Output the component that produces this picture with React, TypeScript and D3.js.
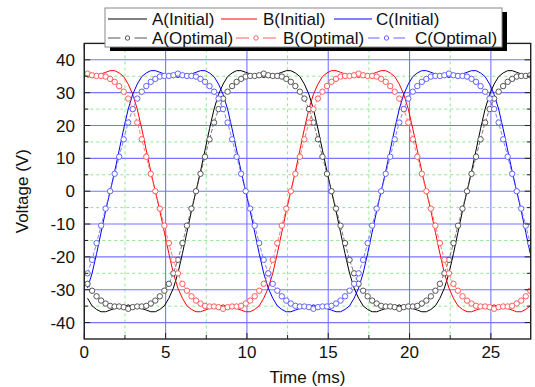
import { useMemo } from "react";
import * as d3 from "d3";

/* ------------------------------------------------------------------ */
/*  Data                                                              */
/* ------------------------------------------------------------------ */

// One period (60 samples over 16.67 ms), starting at
// the centre of the positive plateau.
const waveInitial = [
  34.6, 35.2, 35.4, 35.7, 36.2, 36.7, 36.7, 36.0, 34.9, 32.6, 29.5, 25.0, 19.0, 12.5, 6.0,
  0, -6.0, -12.5, -19.0, -25.0, -29.5, -32.6, -34.9, -36.0, -36.7, -36.7, -36.2, -35.7, -35.4, -35.2,
  -34.6, -35.2, -35.4, -35.7, -36.2, -36.7, -36.7, -36.0, -34.9, -32.6, -29.5, -25.0, -19.0, -12.5, -6.0,
  0, 6.0, 12.5, 19.0, 25.0, 29.5, 32.6, 34.9, 36.0, 36.7, 36.7, 36.2, 35.7, 35.4, 35.2,
];

const waveOptimal = [
  35.8, 35.3, 35.1, 35.1, 34.9, 34.2, 33.3, 32.0, 30.3, 28.2, 25.0, 20.9, 15.8, 10.5, 5.3,
  0, -5.3, -10.5, -15.8, -20.9, -25.0, -28.2, -30.3, -32.0, -33.3, -34.2, -34.9, -35.1, -35.1, -35.3,
  -35.8, -35.3, -35.1, -35.1, -34.9, -34.2, -33.3, -32.0, -30.3, -28.2, -25.0, -20.9, -15.8, -10.5, -5.3,
  0, 5.3, 10.5, 15.8, 20.9, 25.0, 28.2, 30.3, 32.0, 33.3, 34.2, 34.9, 35.1, 35.1, 35.3,
];

const phases = ["A", "B", "C"];
const phaseLag = [39, 0, 20]; // in samples, as read from the plateau centres
const lineColors = ["#000000", "#ff0000", "#0000ff"];
const markerColors = ["#555555", "#ff5c5c", "#6262ff"];

const sampleStart = 0.2; // ms
const periodMs = 16.667;
const samplesPerPeriod = 60;
const sampleCount = 99;

const xMajor = [0, 5, 10, 15, 20, 25];
const xMinor = [2.5, 7.5, 12.5, 17.5, 22.5];
const yMajor = [-40, -30, -20, -10, 0, 10, 20, 30, 40];
const yMinor = [-35, -25, -15, -5, 5, 15, 25, 35];

/* ------------------------------------------------------------------ */
/*  Layout                                                            */
/* ------------------------------------------------------------------ */

const W = 535;
const H = 387;
const plot = { left: 84.3, right: 530.7, top: 43.4, bottom: 339 };
const FONT = "'Liberation Sans', Arial, sans-serif";

interface Pt {
  t: number;
  v: number;
}

function buildSeries(wave: number[], lag: number): Pt[] {
  const out: Pt[] = [];
  const dt = periodMs / samplesPerPeriod;
  for (let k = 0; k < sampleCount; k++) {
    const idx = (((k - lag) % samplesPerPeriod) + samplesPerPeriod) % samplesPerPeriod;
    out.push({ t: sampleStart + k * dt, v: wave[idx] });
  }
  return out;
}

export default function App() {
  const x = useMemo(() => d3.scaleLinear().domain([0, 27.45]).range([plot.left, plot.right]), []);
  const y = useMemo(() => d3.scaleLinear().domain([-45, 45]).range([plot.bottom, plot.top]), []);

  const line = d3
    .line<Pt>()
    .x((d) => x(d.t))
    .y((d) => y(d.v));

  const initial = phases.map((_, i) => buildSeries(waveInitial, phaseLag[i]));
  const optimal = phases.map((_, i) => buildSeries(waveOptimal, phaseLag[i]));

  const pw = plot.right - plot.left;
  const ph = plot.bottom - plot.top;

  // legend geometry
  const lg = { x: 105, y: 8, w: 397, h: 39 };
  const row1 = 19;
  const row2 = 38;
  const initItems = [
    { x1: 108, x2: 147, tx: 152 },
    { x1: 221, x2: 257, tx: 263 },
    { x1: 334, x2: 372, tx: 376 },
  ];
  const optItems = [
    { x1: 108, x2: 147, tx: 152 },
    { x1: 236, x2: 276, tx: 283 },
    { x1: 368, x2: 405, tx: 415 },
  ];

  return (
    <svg
      width={W}
      height={H}
      viewBox={`0 0 ${W} ${H}`}
      style={{ position: "absolute", left: 0, top: 0, background: "#fff" }}
      fontFamily={FONT}
    >
      <defs>
        <clipPath id="plot-clip">
          <rect x={plot.left} y={plot.top} width={pw} height={ph} />
        </clipPath>
      </defs>

      {/* minor grid */}
      <g stroke="#8fe88f" strokeWidth={1} strokeDasharray="3,3">
        {xMinor.map((v) => (
          <line key={`xm${v}`} x1={x(v)} x2={x(v)} y1={plot.top} y2={plot.bottom} />
        ))}
        {yMinor.map((v) => (
          <line key={`ym${v}`} x1={plot.left} x2={plot.right} y1={y(v)} y2={y(v)} />
        ))}
      </g>

      {/* major grid */}
      <g stroke="#7676ff" strokeWidth={1.1}>
        {xMajor.map((v) => (
          <line key={`xg${v}`} x1={x(v)} x2={x(v)} y1={plot.top} y2={plot.bottom} />
        ))}
        {yMajor.map((v) => (
          <line key={`yg${v}`} x1={plot.left} x2={plot.right} y1={y(v)} y2={y(v)} />
        ))}
      </g>

      {/* series */}
      <g clipPath="url(#plot-clip)">
        {initial.map((s, i) => (
          <path key={`init${i}`} d={line(s) ?? ""} fill="none" stroke={lineColors[i]} strokeWidth={1} />
        ))}
        {optimal.map((s, i) => (
          <g key={`opt${i}`}>
            <path
              d={line(s) ?? ""}
              fill="none"
              stroke={markerColors[i]}
              strokeWidth={0.8}
              strokeDasharray="4,2"
            />
            {s.map((d, j) => (
              <circle
                key={j}
                cx={x(d.t)}
                cy={y(d.v)}
                r={2.7}
                fill="#fff"
                stroke={markerColors[i]}
                strokeWidth={1}
              />
            ))}
          </g>
        ))}
      </g>

      {/* frame */}
      <rect x={plot.left} y={plot.top} width={pw} height={ph} fill="none" stroke="#222" strokeWidth={1.4} />

      {/* ticks (inward, all four sides) */}
      <g stroke="#222" strokeWidth={1}>
        {xMajor.map((v) => (
          <g key={`xt${v}`}>
            <line x1={x(v)} x2={x(v)} y1={plot.bottom} y2={plot.bottom - 6} />
            <line x1={x(v)} x2={x(v)} y1={plot.top} y2={plot.top + 6} />
          </g>
        ))}
        {xMinor.map((v) => (
          <g key={`xtm${v}`}>
            <line x1={x(v)} x2={x(v)} y1={plot.bottom} y2={plot.bottom - 4} />
            <line x1={x(v)} x2={x(v)} y1={plot.top} y2={plot.top + 4} />
          </g>
        ))}
        {yMajor.map((v) => (
          <g key={`yt${v}`}>
            <line x1={plot.left} x2={plot.left + 6} y1={y(v)} y2={y(v)} />
            <line x1={plot.right} x2={plot.right - 6} y1={y(v)} y2={y(v)} />
          </g>
        ))}
        {yMinor.map((v) => (
          <g key={`ytm${v}`}>
            <line x1={plot.left} x2={plot.left + 4} y1={y(v)} y2={y(v)} />
            <line x1={plot.right} x2={plot.right - 4} y1={y(v)} y2={y(v)} />
          </g>
        ))}
      </g>

      {/* tick labels */}
      <g fontSize={17} fill="#111">
        {xMajor.map((v) => (
          <text key={`xl${v}`} x={x(v)} y={358} textAnchor="middle">
            {v}
          </text>
        ))}
        {yMajor.map((v) => (
          <text key={`yl${v}`} x={75} y={y(v)} dy="0.36em" textAnchor="end">
            {v}
          </text>
        ))}
      </g>

      {/* axis titles */}
      <text x={(plot.left + plot.right) / 2} y={383} textAnchor="middle" fontSize={17} fill="#111">
        Time (ms)
      </text>
      <text
        transform={`translate(28,${(plot.top + plot.bottom) / 2}) rotate(-90)`}
        textAnchor="middle"
        fontSize={17}
        fill="#111"
      >
        Voltage (V)
      </text>

      {/* legend */}
      <rect x={lg.x + 5} y={lg.y + 4} width={lg.w} height={lg.h} fill="#000" />
      <rect x={lg.x} y={lg.y} width={lg.w} height={lg.h} fill="#fff" stroke="#888" strokeWidth={1} />
      <g fontSize={17} fill="#111">
        {initItems.map((it, i) => (
          <g key={`li${i}`}>
            <line x1={it.x1} x2={it.x2} y1={row1} y2={row1} stroke={lineColors[i]} strokeWidth={1} />
            <text x={it.tx} y={row1} dy="0.36em">
              {phases[i]}(Initial)
            </text>
          </g>
        ))}
        {optItems.map((it, i) => {
          const cx = (it.x1 + it.x2) / 2;
          return (
            <g key={`lo${i}`}>
              <line x1={it.x1} x2={cx - 7} y1={row2} y2={row2} stroke={markerColors[i]} strokeWidth={1} />
              <line x1={cx + 7} x2={it.x2} y1={row2} y2={row2} stroke={markerColors[i]} strokeWidth={1} />
              <circle cx={cx} cy={row2} r={2.2} fill="none" stroke={markerColors[i]} strokeWidth={1} />
              <text x={it.tx} y={row2} dy="0.36em">
                {phases[i]}(Optimal)
              </text>
            </g>
          );
        })}
      </g>
    </svg>
  );
}
